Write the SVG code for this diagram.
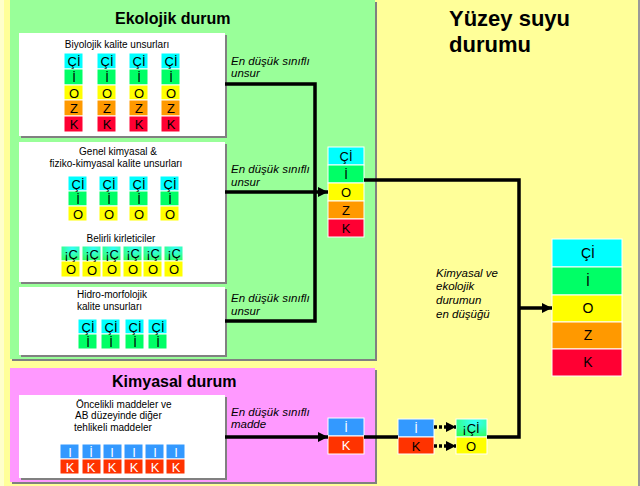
<svg xmlns="http://www.w3.org/2000/svg" width="640" height="486" viewBox="0 0 640 486">
<style>
text{font-family:"Liberation Sans",Arial,sans-serif;fill:#000}
.ttl{font-weight:bold;font-size:16px}
.big{font-weight:bold;font-size:22px}
.sm{font-size:10px}
.it{font-style:italic;font-size:11.5px}
.c{font-size:13px;text-anchor:middle}
.cw{font-size:13px;text-anchor:middle;fill:#fff}
.cb{font-size:14px;text-anchor:middle}
.box{fill:#fff}
.sh{fill:#808080}
.cell{stroke:#fff;stroke-width:1}
.cy{fill:#00FFFF}.gr{fill:#00FF66}.ye{fill:#FFFF00}.or{fill:#FF9900}.rd{fill:#FF0033}
.bl{fill:#3399FF}.rr{fill:#FF3300}.gd{fill:url(#grad)}
.ln{fill:none;stroke:#000;stroke-width:3.5}
.dl{fill:none;stroke:#000;stroke-width:3.5;stroke-dasharray:3 2}
</style>
<defs>
<radialGradient id="grad" cx="0.6" cy="0.2" r="0.9">
<stop offset="0" stop-color="#33FFFF"/>
<stop offset="1" stop-color="#33FF55"/>
</radialGradient>
<marker id="ah" markerUnits="userSpaceOnUse" markerWidth="12" markerHeight="12" refX="10" refY="6" orient="auto">
<path d="M0,1 L10,6 L0,11 Z" fill="#000"/>
</marker>
</defs>
<rect x="0" y="0" width="640" height="486" fill="#FFFF99"/>
<rect x="0" y="0" width="4" height="486" fill="#FFFFCC"/>
<rect x="638" y="0" width="2" height="486" fill="#999"/>

<g id="ekolojik-panel">
<rect class="sh" x="12" y="2" width="365" height="359"/>
<rect x="10" y="0" width="365" height="359" fill="#99FF99"/>
<text class="ttl" x="115" y="24">Ekolojik durum</text>
</g>
<g id="kimyasal-panel">
<rect class="sh" x="12" y="370" width="365" height="114"/>
<rect x="10" y="368" width="365" height="114" fill="#FF99FF"/>
<text class="ttl" x="112" y="387">Kimyasal durum</text>
</g>
<g id="yuzey-title">
<text class="big" x="449" y="26">Yüzey suyu</text>
<text class="big" x="449" y="52">durumu</text>
</g>

<g id="biyolojik">
<rect class="sh" x="21" y="35" width="206" height="103"/>
<rect class="box" x="19" y="33" width="206" height="103"/>
<text class="sm" x="117" y="48" text-anchor="middle">Biyolojik kalite unsurları</text>
<g id="bio-cells">
<rect class="cell cy" x="64" y="53" width="19" height="16"/><rect class="cell gr" x="64" y="69" width="19" height="16"/><rect class="cell ye" x="64" y="85" width="19" height="15"/><rect class="cell or" x="64" y="100" width="19" height="16"/><rect class="cell rd" x="64" y="116" width="19" height="16"/>
<rect class="cell cy" x="97" y="53" width="19" height="16"/><rect class="cell gr" x="97" y="69" width="19" height="16"/><rect class="cell ye" x="97" y="85" width="19" height="15"/><rect class="cell or" x="97" y="100" width="19" height="16"/><rect class="cell rd" x="97" y="116" width="19" height="16"/>
<rect class="cell cy" x="129" y="53" width="19" height="16"/><rect class="cell gr" x="129" y="69" width="19" height="16"/><rect class="cell ye" x="129" y="85" width="19" height="15"/><rect class="cell or" x="129" y="100" width="19" height="16"/><rect class="cell rd" x="129" y="116" width="19" height="16"/>
<rect class="cell cy" x="161" y="53" width="19" height="16"/><rect class="cell gr" x="161" y="69" width="19" height="16"/><rect class="cell ye" x="161" y="85" width="19" height="15"/><rect class="cell or" x="161" y="100" width="19" height="16"/><rect class="cell rd" x="161" y="116" width="19" height="16"/>
<text class="c" x="74" y="66">Çİ</text><text class="c" x="74" y="82">İ</text><text class="c" x="74" y="98">O</text><text class="c" x="74" y="113">Z</text><text class="c" x="74" y="129">K</text>
<text class="c" x="107" y="66">Çİ</text><text class="c" x="107" y="82">İ</text><text class="c" x="107" y="98">O</text><text class="c" x="107" y="113">Z</text><text class="c" x="107" y="129">K</text>
<text class="c" x="139" y="66">Çİ</text><text class="c" x="139" y="82">İ</text><text class="c" x="139" y="98">O</text><text class="c" x="139" y="113">Z</text><text class="c" x="139" y="129">K</text>
<text class="c" x="171" y="66">Çİ</text><text class="c" x="171" y="82">İ</text><text class="c" x="171" y="98">O</text><text class="c" x="171" y="113">Z</text><text class="c" x="171" y="129">K</text>
</g>
</g>

<g id="genel-kimyasal">
<rect class="sh" x="21" y="144" width="206" height="140"/>
<rect class="box" x="19" y="142" width="206" height="140"/>
<text class="sm" x="118" y="155" text-anchor="middle">Genel kimyasal &amp;</text>
<text class="sm" x="116" y="167" text-anchor="middle">fiziko-kimyasal kalite unsurları</text>
<rect class="cell cy" x="68" y="176" width="19" height="15"/><rect class="cell gr" x="68" y="191" width="19" height="15"/><rect class="cell ye" x="68" y="206" width="19" height="15"/>
<rect class="cell cy" x="99" y="176" width="19" height="15"/><rect class="cell gr" x="99" y="191" width="19" height="15"/><rect class="cell ye" x="99" y="206" width="19" height="15"/>
<rect class="cell cy" x="129" y="176" width="19" height="15"/><rect class="cell gr" x="129" y="191" width="19" height="15"/><rect class="cell ye" x="129" y="206" width="19" height="15"/>
<rect class="cell cy" x="160" y="176" width="19" height="15"/><rect class="cell gr" x="160" y="191" width="19" height="15"/><rect class="cell ye" x="160" y="206" width="19" height="15"/>
<text class="c" x="78" y="189">Çİ</text><text class="c" x="78" y="204">İ</text><text class="c" x="78" y="219">O</text>
<text class="c" x="109" y="189">Çİ</text><text class="c" x="109" y="204">İ</text><text class="c" x="109" y="219">O</text>
<text class="c" x="139" y="189">Çİ</text><text class="c" x="139" y="204">İ</text><text class="c" x="139" y="219">O</text>
<text class="c" x="170" y="189">Çİ</text><text class="c" x="170" y="204">İ</text><text class="c" x="170" y="219">O</text>
<text class="sm" x="121" y="242" text-anchor="middle">Belirli kirleticiler</text>
<rect class="cell gd" x="61" y="246" width="19" height="15"/><rect class="cell ye" x="61" y="261" width="19" height="16"/>
<rect class="cell gd" x="82" y="246" width="19" height="15"/><rect class="cell ye" x="82" y="261" width="19" height="16"/>
<rect class="cell gd" x="102" y="246" width="19" height="15"/><rect class="cell ye" x="102" y="261" width="19" height="16"/>
<rect class="cell gd" x="123" y="246" width="19" height="15"/><rect class="cell ye" x="123" y="261" width="19" height="16"/>
<rect class="cell gd" x="143" y="246" width="19" height="15"/><rect class="cell ye" x="143" y="261" width="19" height="16"/>
<rect class="cell gd" x="164" y="246" width="19" height="15"/><rect class="cell ye" x="164" y="261" width="19" height="16"/>
<text class="c" x="71" y="259">¡Ç</text><text class="c" x="71" y="274">O</text>
<text class="c" x="92" y="259">¡Ç</text><text class="c" x="92" y="275">O</text>
<text class="c" x="112" y="259">¡Ç</text><text class="c" x="112" y="274">O</text>
<text class="c" x="133" y="258">¡Ç</text><text class="c" x="133" y="274">O</text>
<text class="c" x="153" y="258">¡Ç</text><text class="c" x="153" y="274">O</text>
<text class="c" x="174" y="258">¡Ç</text><text class="c" x="174" y="274">O</text>
</g>

<g id="hidro-morfolojik">
<rect class="sh" x="21" y="289" width="206" height="68"/>
<rect class="box" x="19" y="287" width="206" height="68"/>
<text class="sm" x="77" y="298">Hidro-morfolojik</text>
<text class="sm" x="77" y="310">kalite unsurları</text>
<rect class="cell cy" x="78" y="319" width="19" height="15"/><rect class="cell gr" x="78" y="334" width="19" height="15"/>
<rect class="cell cy" x="101" y="319" width="19" height="15"/><rect class="cell gr" x="101" y="334" width="19" height="15"/>
<rect class="cell cy" x="125" y="319" width="19" height="15"/><rect class="cell gr" x="125" y="334" width="19" height="15"/>
<rect class="cell cy" x="148" y="319" width="19" height="15"/><rect class="cell gr" x="148" y="334" width="19" height="15"/>
<text class="c" x="88" y="332">Çİ</text><text class="c" x="88" y="347">İ</text>
<text class="c" x="111" y="332">Çİ</text><text class="c" x="111" y="347">İ</text>
<text class="c" x="135" y="332">Çİ</text><text class="c" x="135" y="347">İ</text>
<text class="c" x="158" y="332">Çİ</text><text class="c" x="158" y="347">İ</text>
</g>

<g id="oncelikli">
<rect class="sh" x="21" y="397" width="206" height="83"/>
<rect class="box" x="19" y="395" width="206" height="83"/>
<text class="sm" x="76" y="408">Öncelikli maddeler ve</text>
<text class="sm" x="75" y="419">AB düzeyinde diğer</text>
<text class="sm" x="74" y="431">tehlikeli maddeler</text>
<rect class="cell bl" x="60" y="444" width="19" height="15"/><rect class="cell rr" x="60" y="459" width="19" height="15"/>
<rect class="cell bl" x="82" y="444" width="19" height="15"/><rect class="cell rr" x="82" y="459" width="19" height="15"/>
<rect class="cell bl" x="103" y="444" width="19" height="15"/><rect class="cell rr" x="103" y="459" width="19" height="15"/>
<rect class="cell bl" x="124" y="444" width="19" height="15"/><rect class="cell rr" x="124" y="459" width="19" height="15"/>
<rect class="cell bl" x="145" y="444" width="19" height="15"/><rect class="cell rr" x="145" y="459" width="19" height="15"/>
<rect class="cell bl" x="166" y="444" width="19" height="15"/><rect class="cell rr" x="166" y="459" width="19" height="15"/>
<text class="cw" x="70" y="457">I</text><text class="cw" x="70" y="472">K</text>
<text class="cw" x="91" y="457">İ</text><text class="cw" x="91" y="472">K</text>
<text class="cw" x="112" y="457">I</text><text class="cw" x="112" y="472">K</text>
<text class="cw" x="134" y="457">I</text><text class="cw" x="134" y="472">K</text>
<text class="cw" x="155" y="457">I</text><text class="cw" x="155" y="472">K</text>
<text class="cw" x="176" y="457">I</text><text class="cw" x="176" y="472">K</text>
</g>

<g id="ekolojik-result">
<rect class="cell cy" x="328" y="147" width="36" height="18"/>
<rect class="cell gr" x="328" y="165" width="36" height="18"/>
<rect class="cell ye" x="328" y="183" width="36" height="18"/>
<rect class="cell or" x="328" y="201" width="36" height="18"/>
<rect class="cell rd" x="328" y="219" width="36" height="18"/>
<text class="c" x="346" y="161">Çİ</text><text class="c" x="346" y="179">İ</text><text class="c" x="346" y="197">O</text><text class="c" x="346" y="215">Z</text><text class="c" x="346" y="233">K</text>
</g>

<g id="kimyasal-result">
<rect class="cell bl" x="328" y="418" width="36" height="18"/>
<rect class="cell rr" x="328" y="436" width="36" height="18"/>
<text class="cw" x="346" y="432">İ</text><text class="cw" x="346" y="450">K</text>
</g>

<g id="kimyasal-copy">
<rect class="cell bl" x="398" y="419" width="36" height="18"/>
<rect class="cell rr" x="398" y="437" width="36" height="17"/>
<text class="cw" x="416" y="433">İ</text><text class="c" x="416" y="451">K</text>
</g>

<g id="kimyasal-mapped">
<rect class="cell gd" x="456" y="419" width="31" height="18"/>
<rect class="cell ye" x="456" y="437" width="31" height="17"/>
<text class="c" x="471" y="433">¡Çİ</text><text class="c" x="471" y="451">O</text>
</g>

<g id="final-result">
<rect class="cell cy" x="552" y="239" width="70" height="28"/>
<rect class="cell gr" x="552" y="267" width="70" height="28"/>
<rect class="cell ye" x="552" y="295" width="70" height="27"/>
<rect class="cell or" x="552" y="322" width="70" height="27"/>
<rect class="cell rd" x="552" y="349" width="70" height="27"/>
<text class="cb" x="588" y="258">Çİ</text><text class="cb" x="588" y="286">İ</text><text class="cb" x="588" y="313">O</text><text class="cb" x="588" y="340">Z</text><text class="cb" x="588" y="367">K</text>
</g>

<g id="labels">
<text class="it" x="231" y="65">En düşük sınıflı</text>
<text class="it" x="231" y="77">unsur</text>
<text class="it" x="231" y="173">En düşük sınıflı</text>
<text class="it" x="231" y="186">unsur</text>
<text class="it" x="231" y="302">En düşük sınıflı</text>
<text class="it" x="231" y="315">unsur</text>
<text class="it" x="231" y="416">En düşük sınıflı</text>
<text class="it" x="231" y="428">madde</text>
<text class="it" x="436" y="277">Kimyasal ve</text>
<text class="it" x="436" y="290">ekolojik</text>
<text class="it" x="436" y="304">durumun</text>
<text class="it" x="436" y="318">en düşüğü</text>
</g>

<g id="connectors">
<path class="ln" d="M225,84 H315 V321 H225"/>
<path class="ln" d="M225,192 H328" marker-end="url(#ah)"/>
<path class="ln" d="M364,180 H519 V437 H487"/>
<path class="ln" d="M519,308 H552" marker-end="url(#ah)"/>
<path class="ln" d="M225,437 H328" marker-end="url(#ah)"/>
<path class="ln" d="M364,437 H398"/>
<path class="dl" d="M434,427 H456" marker-end="url(#ah)"/>
<path class="dl" d="M434,446 H456" marker-end="url(#ah)"/>
</g>
</svg>
